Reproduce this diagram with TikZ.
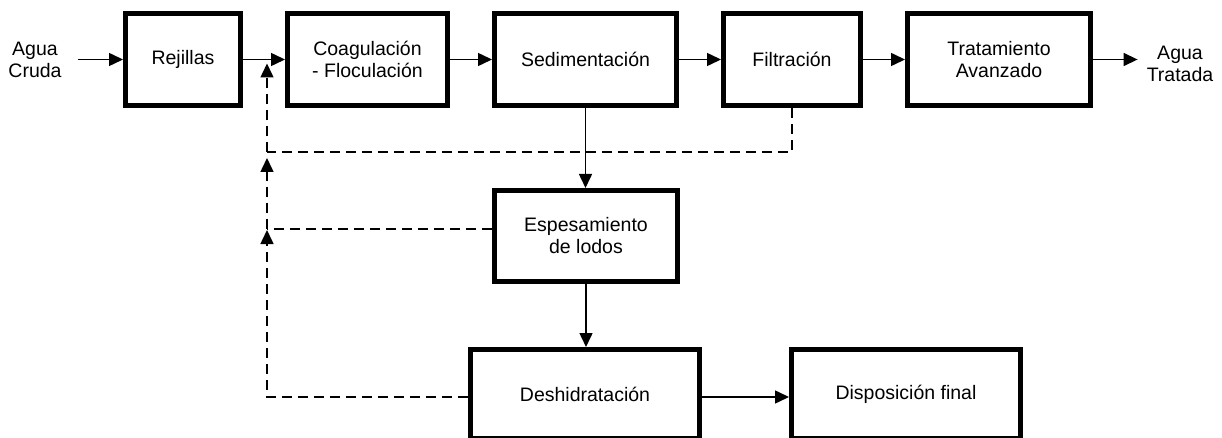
\documentclass[tikz,border=0pt]{standalone}
\usepackage{fontspec}
\setmainfont{Liberation Sans}
\usetikzlibrary{arrows.meta}

\tikzset{
  box/.style={draw, line width=5pt, align=center, inner sep=0pt},
  head/.style={-{Triangle[length=14pt,width=13pt]}},
  flow/.style={line width=1.5pt, head},
  ret/.style={line width=1.5pt, dash pattern=on 10pt off 6pt},
}

\begin{document}
\begin{tikzpicture}[x=1pt,y=-1pt,font=\fontsize{19.5}{22}\selectfont]
\useasboundingbox (0,0) rectangle (1222,438);

% linea de agua
\node[align=center,inner xsep=16pt] (cruda) at (35,60) {Agua\\Cruda};
\node[box,minimum width=115pt,minimum height=92pt] (rej) at (183,59.5) {Rejillas};
\node[box,minimum width=160pt,minimum height=92pt] (coag) at (367.5,59.5) {Coagulación\\- Floculación};
\node[box,minimum width=182pt,minimum height=92pt] (sed) at (585.5,59.5) {Sedimentación};
\node[box,minimum width=137pt,minimum height=92pt] (filt) at (792,59.5) {Filtración};
\node[box,minimum width=183pt,minimum height=92pt] (trat) at (999,59.5) {Tratamiento\\Avanzado};
\node[align=center,inner xsep=9pt] (tratada) at (1180,64) {Agua\\Tratada};

% linea de lodos
\node[box,minimum width=183pt,minimum height=91pt] (esp) at (586,236) {Espesamiento\\de lodos};
\node[box,minimum width=229pt,minimum height=89pt] (desh) at (585,394) {Deshidratación};
\node[box,minimum width=229pt,minimum height=89pt] (disp) at (906,394) {Disposición final};

\draw[flow] (cruda.east |- rej) -- (rej);
\draw[flow] (rej) -- (coag);
\draw[flow] (coag) -- (sed);
\draw[flow] (sed) -- (filt);
\draw[flow] (filt) -- (trat);
\draw[flow] (trat) -- (trat -| tratada.west);
\draw[flow] (sed.south) -- (sed.south |- esp.north);
\draw[flow] (esp.south) -- (esp.south |- desh.north);
\draw[flow] ([yshift=-3pt]desh.east) -- ([yshift=-3pt]disp.west);

% recirculacion
\coordinate (jtop) at (267,59.5);
\coordinate (jfil) at (267,152);
\coordinate (jesp) at (267,229);
\draw[ret] (filt.south) |- (jfil);
\draw[ret,head] (jfil) -- ([yshift=-4pt]jtop);
\draw[ret] (esp.west |- jesp) -- (jesp);
\draw[ret,head] (jesp) -- ([yshift=-6pt]jfil);
\draw[ret,head] ([yshift=-3pt]desh.west) -| ([yshift=-1pt]jesp);
\end{tikzpicture}
\end{document}
